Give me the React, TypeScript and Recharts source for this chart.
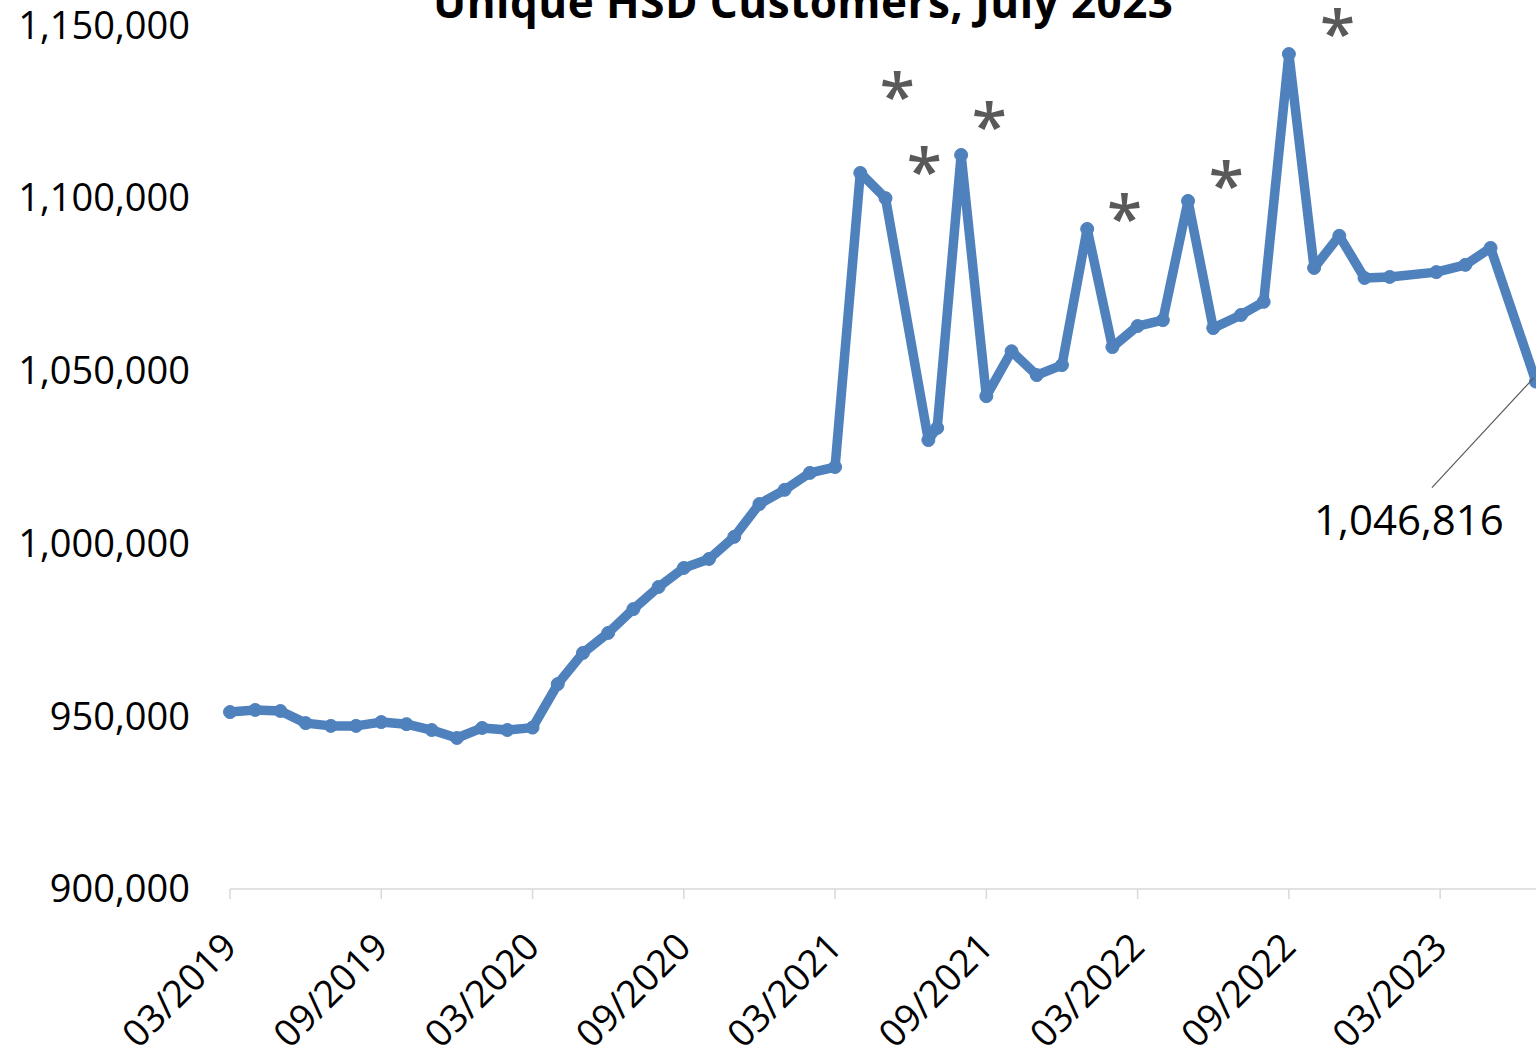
import React from 'react';
import { ComposedChart, Line, XAxis, YAxis, ReferenceDot, LabelList } from 'recharts';

// months counted from 03/2019
const months = [
  0, 1, 2, 3, 4, 5, 6, 7, 8, 9, 10, 11, 12, 13, 14, 15, 16, 17, 18, 19, 20, 21, 22, 23, 24,
  25, 26, 27.7, 28.05, 29, 30, 31, 32, 33, 34, 35, 36, 37, 38, 39, 40.1, 41, 42, 43, 44, 45,
  46, 47.85, 49, 50, 51.8,
];
const customers = [
  951200, 951800, 951500, 948000, 947200, 947200, 948300, 947700, 946000, 943700, 946600,
  946000, 946700, 959300, 968300, 974100, 981000, 987400, 992900, 995500, 1001900, 1011400,
  1015500, 1020400, 1022100, 1107200, 1099900, 1029900, 1033400, 1112400, 1042600, 1055600,
  1048700, 1051600, 1091000, 1056800, 1062900, 1064600, 1099100, 1062300, 1066100, 1069900,
  1141600, 1079700, 1089000, 1076800, 1077100, 1078500, 1080600, 1085500, 1046816,
];

const tickMonths = [0, 6, 12, 18, 24, 30, 36, 42, 48];
const tickLabels = [
  '03/2019', '09/2019', '03/2020', '09/2020', '03/2021', '09/2021', '03/2022', '09/2022', '03/2023',
];
const yTicks = [900000, 950000, 1000000, 1050000, 1100000, 1150000];

const starMonths = [26.47, 27.54, 30.12, 35.48, 39.52, 43.93];
const starLevels = [1133200, 1111500, 1124500, 1097900, 1107500, 1151400];

const data = months.map((m, i) => ({ m, v: customers[i] }));

const FONT = '"Open Sans", sans-serif';
const BLUE = '#4F81BD';
const STAR = 64;

const DateTick = (props: any) => {
  const { x, y, payload } = props;
  const i = tickMonths.indexOf(payload.value);
  const ax = x + 9;
  const ay = y + 50;
  return (
    <text
      x={ax}
      y={ay}
      transform={`rotate(-45 ${ax} ${ay})`}
      textAnchor="end"
      fontSize={37.5}
      fontFamily={FONT}
      fill="#000"
    >
      {tickLabels[i]}
    </text>
  );
};

const LastLabel = (props: any) => {
  const { x, y, index, value } = props;
  if (index !== data.length - 1) return null;
  return (
    <g>
      <line x1={x - 104} y1={y + 106} x2={x - 2} y2={y - 4} stroke="#595959" strokeWidth={1.2} />
      <text x={x - 127} y={y + 153} textAnchor="middle" fontSize={42} fontFamily={FONT} fill="#000">
        {Number(value).toLocaleString('en-US')}
      </text>
    </g>
  );
};

const Star = (props: any) => (
  <text
    x={props.cx}
    y={props.cy + STAR * 0.56}
    textAnchor="middle"
    fontSize={STAR}
    fontWeight={600}
    fontFamily={FONT}
    fill="#595959"
  >
    *
  </text>
);

export default function App() {
  return (
    <div style={{ position: 'fixed', left: 0, top: 0, width: 1536, height: 1053, overflow: 'hidden', background: '#fff' }}>
      <ComposedChart
        width={1600}
        height={1053}
        data={data}
        margin={{ top: 25, right: 59, left: 0, bottom: 0 }}
      >
        <XAxis
          dataKey="m"
          type="number"
          domain={[0, 52]}
          ticks={tickMonths}
          interval={0}
          height={164}
          axisLine={{ stroke: '#D9D9D9', strokeWidth: 1.5 }}
          tickLine={{ stroke: '#D9D9D9', strokeWidth: 1.5 }}
          tickSize={10}
          tickMargin={0}
          tick={<DateTick />}
        />
        <YAxis
          type="number"
          domain={[900000, 1150000]}
          ticks={yTicks}
          width={230}
          axisLine={false}
          tickLine={false}
          tickSize={0}
          tickMargin={40}
          tickFormatter={(v: number) => v.toLocaleString('en-US')}
          tick={{ fontSize: 38, fontFamily: FONT, fill: '#000' }}
        />
        <Line
          dataKey="v"
          type="linear"
          stroke={BLUE}
          strokeWidth={9.5}
          strokeLinejoin="round"
          dot={{ r: 6.5, fill: BLUE, stroke: BLUE, strokeWidth: 1 }}
          activeDot={false}
          isAnimationActive={false}
        >
          <LabelList dataKey="v" content={<LastLabel />} />
        </Line>
        {starMonths.map((m, i) => (
          <ReferenceDot key={i} x={m} y={starLevels[i]} r={0} ifOverflow="visible" shape={Star} />
        ))}
      </ComposedChart>
      <svg width={1536} height={60} style={{ position: 'absolute', left: 0, top: 0 }}>
        <text
          x={803}
          y={18}
          textAnchor="middle"
          fontSize={44}
          fontWeight="bold"
          fontFamily={FONT}
          fill="#000"
          textLength={740}
        >
          Unique HSD Customers, July 2023
        </text>
      </svg>
    </div>
  );
}
